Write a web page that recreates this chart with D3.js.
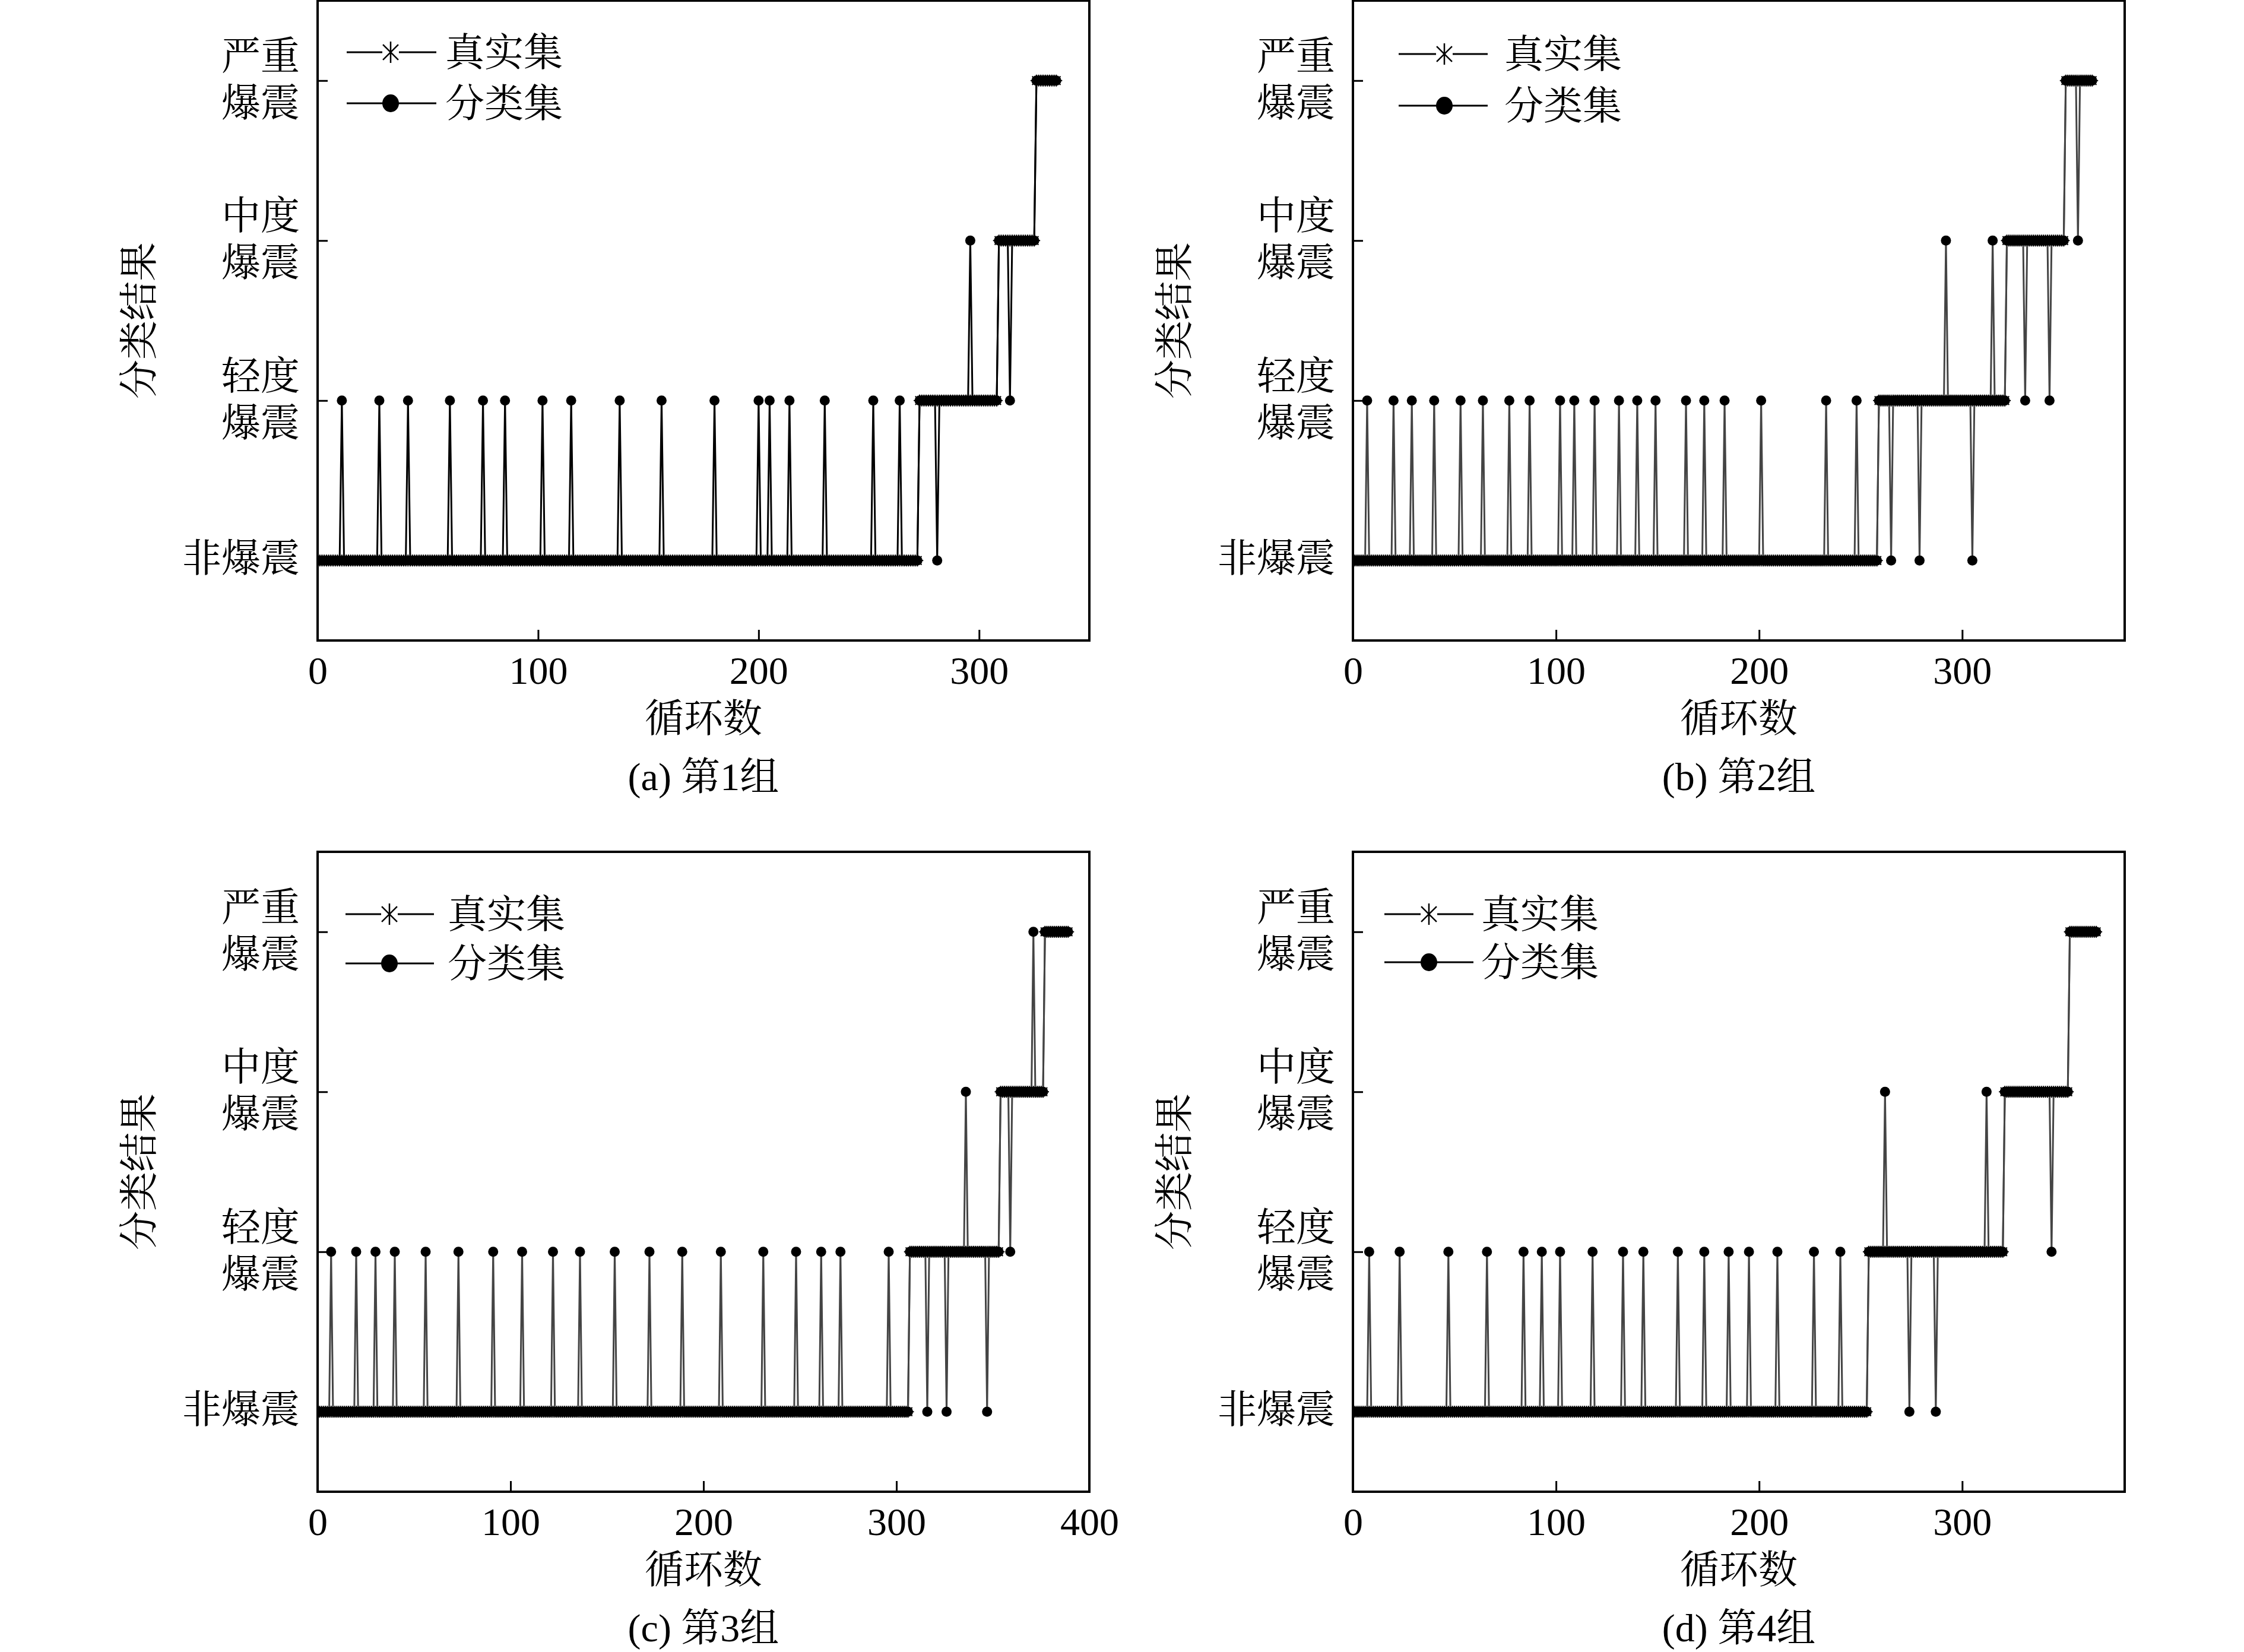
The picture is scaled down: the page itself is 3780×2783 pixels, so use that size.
<!DOCTYPE html>
<html><head><meta charset="utf-8">
<script src="https://cdn.jsdelivr.net/npm/d3@7/dist/d3.min.js"></script>
<style>
html,body{margin:0;padding:0;background:#fff;}
svg{display:block;}
text{font-family:"Liberation Serif","Times New Roman","Noto Serif CJK SC","Noto Sans CJK SC",serif;fill:#000;}
</style></head>
<body>
<script>
// ---------------- DATA ----------------
const levelLabels = [["非爆震"], ["轻度", "爆震"], ["中度", "爆震"], ["严重", "爆震"]];
const seriesNames = ["真实集", "分类集"];
const xLabel = "循环数";
const yLabel = "分类结果";
const captions = ["(a) 第1组", "(b) 第2组", "(c) 第3组", "(d) 第4组"];

const xDomains = [[0, 350], [0, 380], [0, 400], [0, 380]];
const xTicksA = [0, 100, 200, 300];
const xTicksB = [0, 100, 200, 300];
const xTicksC = [0, 100, 200, 300, 400];
const xTicksD = [0, 100, 200, 300];

// true class as runs: [first cycle, last cycle, class]
const trueRunsA = [[1, 272, 0], [273, 308, 1], [309, 325, 2], [326, 335, 3]];
const trueRunsB = [[1, 258, 0], [259, 321, 1], [322, 350, 2], [351, 364, 3]];
const trueRunsC = [[1, 306, 0], [307, 353, 1], [354, 376, 2], [377, 389, 3]];
const trueRunsD = [[1, 253, 0], [254, 320, 1], [321, 352, 2], [353, 366, 3]];

// classified set: cycles where the classification differs from the true class: [cycle, class]
const missA = [[11,1],[28,1],[41,1],[60,1],[75,1],[85,1],[102,1],[115,1],[137,1],[156,1],[180,1],[200,1],[205,1],[214,1],[230,1],[252,1],[264,1],
               [281,0],[296,2],[314,1]];
const missB = [[7,1],[20,1],[29,1],[40,1],[53,1],[64,1],[77,1],[87,1],[102,1],[109,1],[119,1],[131,1],[140,1],[149,1],[164,1],[173,1],[183,1],[201,1],[233,1],[248,1],
               [265,0],[279,0],[292,2],[305,0],[315,2],[331,1],[343,1],[357,2]];
const missC = [[7,1],[20,1],[30,1],[40,1],[56,1],[73,1],[91,1],[106,1],[122,1],[136,1],[154,1],[172,1],[189,1],[209,1],[231,1],[248,1],[261,1],[271,1],[296,1],
               [316,0],[326,0],[336,2],[347,0],[359,1],[371,3]];
const missD = [[8,1],[23,1],[47,1],[66,1],[84,1],[93,1],[102,1],[118,1],[133,1],[143,1],[160,1],[173,1],[185,1],[195,1],[209,1],[227,1],[240,1],
               [262,2],[274,0],[287,0],[312,2],[344,1]];

// ---------------- LAYOUT ----------------
const W = 3780, H = 2783;
const PW = 1300, PH = 1078;
const panels = [
  {L: 535, T: 1, dom: xDomains[0], ticks: xTicksA, runs: trueRunsA, miss: missA, cap: captions[0], lineColor: "#000",
   leg: {x0: 49, x1: 200, m: 123, tx: 215, y1: 87, y2: 173}},
  {L: 2279, T: 1, dom: xDomains[1], ticks: xTicksB, runs: trueRunsB, miss: missB, cap: captions[1], lineColor: "#444",
   leg: {x0: 77, x1: 227, m: 154, tx: 255, y1: 90, y2: 177}},
  {L: 535, T: 1435, dom: xDomains[2], ticks: xTicksC, runs: trueRunsC, miss: missC, cap: captions[2], lineColor: "#444",
   leg: {x0: 47, x1: 196, m: 121, tx: 219, y1: 105, y2: 188}},
  {L: 2279, T: 1435, dom: xDomains[3], ticks: xTicksD, runs: trueRunsD, miss: missD, cap: captions[3], lineColor: "#444",
   leg: {x0: 53, x1: 203, m: 128, tx: 216, y1: 105, y2: 186}}
];

const FS = 66;

const svg = d3.select("body").append("svg").attr("width", W).attr("height", H);
svg.append("rect").attr("width", W).attr("height", H).attr("fill", "#fff");

function asterisk(r, withH) {
  const d = r * 0.72;
  let p = `M0,${-r}V${r}M${-d},${-d}L${d},${d}M${-d},${d}L${d},${-d}`;
  if (withH) p += `M${-r},0H${r}`;
  return p;
}

panels.forEach((p, i) => {
  // build series from runs and misclassifications
  const trueSeries = [];
  p.runs.forEach(([s, e, c]) => { for (let k = s; k <= e; k++) trueSeries.push({x: k, y: c}); });
  const missMap = new Map(p.miss.map(([k, c]) => [k, c]));
  const clsSeries = trueSeries.map(d => ({x: d.x, y: missMap.has(d.x) ? missMap.get(d.x) : d.y}));

  const x = d3.scaleLinear().domain(p.dom).range([0, PW]);
  const y = d3.scaleLinear().domain([-0.5, 3.5]).range([PH, 0]);

  const g = svg.append("g").attr("transform", `translate(${p.L},${p.T})`);
  const clipId = "clip" + i;
  g.append("clipPath").attr("id", clipId).append("rect").attr("width", PW).attr("height", PH);

  const plot = g.append("g").attr("clip-path", `url(#${clipId})`);
  const line = d3.line().x(d => x(d.x)).y(d => y(d.y));

  // true series
  plot.append("path").datum(trueSeries).attr("d", line)
    .attr("fill", "none").attr("stroke", p.lineColor).attr("stroke-width", 3);
  plot.append("g").selectAll("path").data(trueSeries).join("path")
    .attr("transform", d => `translate(${x(d.x)},${y(d.y)})`)
    .attr("d", asterisk(10, true)).attr("fill", "none").attr("stroke", "#000").attr("stroke-width", 2);
  // classified series
  plot.append("path").datum(clsSeries).attr("d", line)
    .attr("fill", "none").attr("stroke", p.lineColor).attr("stroke-width", 3);
  plot.append("g").selectAll("circle").data(clsSeries).join("circle")
    .attr("cx", d => x(d.x)).attr("cy", d => y(d.y)).attr("r", 8.5).attr("fill", "#000");

  // axes (inward ticks)
  const xAxis = d3.axisBottom(x).tickValues(p.ticks).tickSize(-18).tickPadding(0).tickFormat(d3.format("d"));
  const xg = g.append("g").attr("transform", `translate(0,${PH})`).call(xAxis);
  xg.select(".domain").remove();
  xg.selectAll("line").attr("stroke", "#000").attr("stroke-width", 3);
  xg.selectAll("text").attr("font-size", FS).attr("dy", null).attr("y", 50)
    .attr("dominant-baseline", "central").attr("font-family", "Liberation Serif, Times New Roman, serif");

  const yAxis = d3.axisLeft(y).tickValues([0, 1, 2, 3]).tickSize(-17).tickFormat("");
  const yg = g.append("g").call(yAxis);
  yg.select(".domain").remove();
  yg.selectAll("line").attr("stroke", "#000").attr("stroke-width", 3);

  // y tick labels (multi-line)
  const lab = g.append("g");
  levelLabels.forEach((lines, lv) => {
    const t = lab.append("text").attr("text-anchor", "end").attr("font-size", FS)
      .attr("dominant-baseline", "central");
    if (lines.length === 1) {
      t.append("tspan").attr("x", -30).attr("y", y(lv) - 4).text(lines[0]);
    } else {
      t.append("tspan").attr("x", -30).attr("y", y(lv) - 42).text(lines[0]);
      t.append("tspan").attr("x", -30).attr("y", y(lv) + 37).text(lines[1]);
    }
  });

  // frame
  g.append("rect").attr("width", PW).attr("height", PH).attr("fill", "none")
    .attr("stroke", "#000").attr("stroke-width", 4);

  // titles
  g.append("text").attr("x", PW / 2).attr("y", PH + 131).attr("text-anchor", "middle")
    .attr("dominant-baseline", "central").attr("font-size", FS).text(xLabel);
  g.append("text").attr("x", PW / 2).attr("y", PH + 229).attr("text-anchor", "middle")
    .attr("dominant-baseline", "central").attr("font-size", FS).text(p.cap);
  g.append("text").attr("transform", `translate(-301,${PH / 2}) rotate(-90)`).attr("text-anchor", "middle")
    .attr("dominant-baseline", "central").attr("font-size", FS).text(yLabel);

  // legend
  const lg = g.append("g");
  const L = p.leg;
  [L.y1, L.y2].forEach((yy, k) => {
    lg.append("line").attr("x1", L.x0).attr("x2", L.x1).attr("y1", yy).attr("y2", yy)
      .attr("stroke", "#000").attr("stroke-width", 3);
    if (k === 0) {
      lg.append("rect").attr("x", L.m - 14).attr("y", yy - 4).attr("width", 28).attr("height", 8).attr("fill", "#fff");
      lg.append("path").attr("transform", `translate(${L.m},${yy})`).attr("d", asterisk(18, false))
        .attr("fill", "none").attr("stroke", "#000").attr("stroke-width", 2.5);
    } else {
      lg.append("ellipse").attr("cx", L.m).attr("cy", yy).attr("rx", 14).attr("ry", 15).attr("fill", "#000");
    }
    lg.append("text").attr("x", L.tx).attr("y", yy).attr("dominant-baseline", "central")
      .attr("font-size", FS).text(seriesNames[k]);
  });
});
</script>
</body></html>
